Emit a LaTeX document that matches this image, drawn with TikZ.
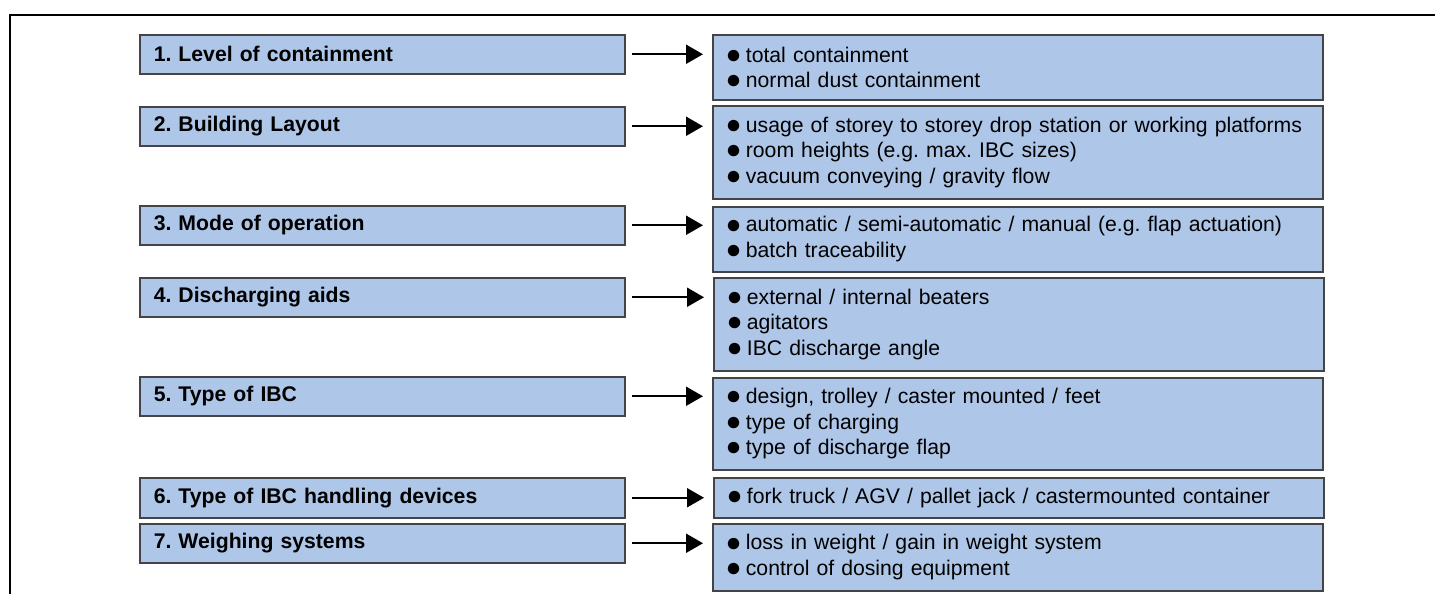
\documentclass[tikz,border=0pt]{standalone}
\usepackage{fontspec}
\setmainfont{Liberation Sans}
\usetikzlibrary{arrows.meta}

\definecolor{boxblue}{RGB}{174,198,232}
\definecolor{boxline}{RGB}{68,68,72}
\newcommand{\itm}{\hspace*{-0.1em}\smash{\raisebox{-0.05em}{\scalebox{1.25}{●}}}\hspace{0.2em}}
\frenchspacing

\begin{document}
\begin{tikzpicture}[x=0.5pt,y=-0.5pt,
    leftbox/.style={draw=boxline, line width=0.75pt, fill=boxblue, anchor=north west,
      text width=228.5pt, inner xsep=7pt, inner ysep=0pt, minimum height=19.5pt,
      align=left, font=\bfseries\fontsize{10.6}{12.75}\selectfont},
    rightbox/.style={draw=boxline, line width=0.75pt, fill=boxblue, anchor=north west,
      text width=290pt, inner xsep=7.5pt, inner ysep=0pt,
      align=left, font=\fontsize{10.6}{12.75}\selectfont},
    pointer/.style={line width=1pt, -{Triangle[length=8.5pt,width=9.5pt]},
      shorten <=3pt, shorten >=4.5pt}]
  \useasboundingbox (0,0) rectangle (1435,594);

  % frame
  \draw[line width=1pt] (1435,15) -- (10,15) -- (10,594);

  % factors
  \node[leftbox] (l1) at (139,34)  {1. Level of containment};
  \node[leftbox] (l2) at (139,106) {2. Building Layout};
  \node[leftbox] (l3) at (139,205) {3. Mode of operation};
  \node[leftbox] (l4) at (139,277) {4. Discharging aids};
  \node[leftbox] (l5) at (139,376) {5. Type of IBC};
  \node[leftbox, minimum height=20pt] (l6) at (139,477) {6. Type of IBC handling devices};
  \node[leftbox] (l7) at (139,523) {7. Weighing systems};

  % details
  \node[rightbox, minimum height=32.5pt] (r1) at (712,34)
    {\itm total containment\\ \itm normal dust containment};
  \node[rightbox, minimum height=46.5pt] (r2) at (712,105)
    {\itm usage of storey to storey drop station or working platforms\\
     \itm room heights (e.g. max. IBC sizes)\\
     \itm vacuum conveying / gravity flow};
  \node[rightbox, minimum height=32.5pt] (r3) at (712,206)
    {\itm automatic / semi-automatic / manual (e.g. flap actuation)\\
     \itm batch traceability};
  \node[rightbox, minimum height=46.5pt] (r4) at (713,277)
    {\itm external / internal beaters\\ \itm agitators\\ \itm IBC discharge angle};
  \node[rightbox, minimum height=46pt] (r5) at (712,377)
    {\itm design, trolley / caster mounted / feet\\ \itm type of charging\\
     \itm type of discharge flap};
  \node[rightbox, minimum height=20pt] (r6) at (713,477)
    {\itm fork truck / AGV / pallet jack / castermounted container};
  \node[rightbox, minimum height=33.5pt] (r7) at (712,523)
    {\itm loss in weight / gain in weight system\\ \itm control of dosing equipment};

  \foreach \i in {1,...,7}
    \draw[pointer] (l\i.east) -- (l\i.east -| r\i.west);
\end{tikzpicture}
\end{document}
